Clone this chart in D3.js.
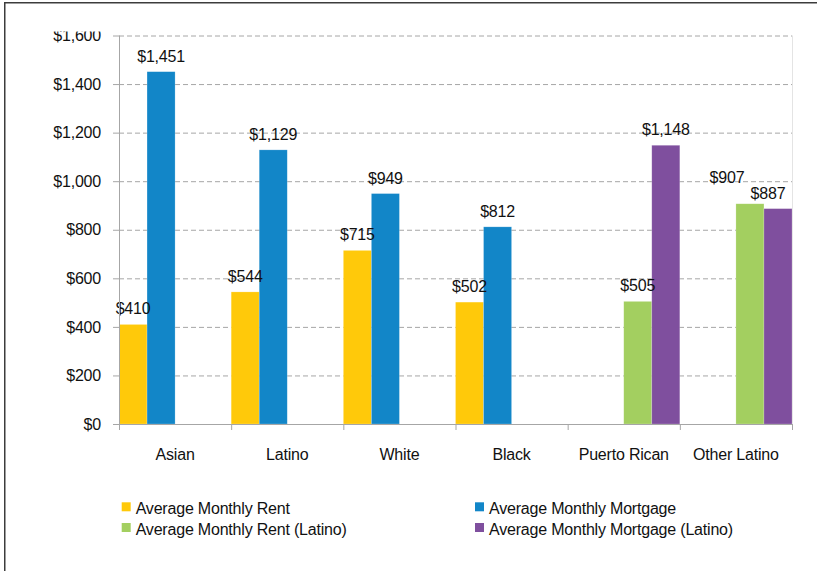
<!DOCTYPE html>
<html>
<head>
<meta charset="utf-8">
<title>Average Monthly Rent and Mortgage</title>
<script src="https://d3js.org/d3.v7.min.js"></script>
<style>
  body { margin: 0; background: #fff; }
  text { font-family: "Liberation Sans", Arial, sans-serif; font-size: 16px; fill: #111; letter-spacing: -0.2px; }
  .grid line { stroke: #a6a6a6; stroke-dasharray: 5,3; }
  .axis path, .axis line { stroke: #a6a6a6; }
</style>
</head>
<body>
<div id="chart"></div>
<script>
// data
var categories = ["Asian", "Latino", "White", "Black", "Puerto Rican", "Other Latino"];
var seriesNames = ["Average Monthly Rent", "Average Monthly Mortgage",
                   "Average Monthly Rent (Latino)", "Average Monthly Mortgage (Latino)"];
var rent           = [410, 544, 715, 502, null, null];
var mortgage       = [1451, 1129, 949, 812, null, null];
var rentLatino     = [null, null, null, null, 505, 907];
var mortgageLatino = [null, null, null, null, 1148, 887];
var yTicks = [0, 200, 400, 600, 800, 1000, 1200, 1400, 1600];

var colors = ["#ffc90a", "#1286c8", "#a3cf60", "#7f4f9e"];
var values = [rent, mortgage, rentLatino, mortgageLatino];

// label nudges where the labels would collide ("series-category")
var labelNudge = { "2-5": [-23, -11], "3-5": [-10, 0] };

var width = 817, height = 571;
var margin = {top: 35.5, right: 25, bottom: 147, left: 119};
var w = width - margin.left - margin.right;
var h = height - margin.top - margin.bottom;

var svg = d3.select("#chart").append("svg")
    .attr("width", width)
    .attr("height", height);

// outer frame (runs off the right and bottom edges)
svg.append("rect")
    .attr("x", 4.75).attr("y", 2.75)
    .attr("width", 900).attr("height", 700)
    .attr("fill", "none")
    .attr("stroke", "#3c3c3c")
    .attr("stroke-width", 1.5);

var g = svg.append("g")
    .attr("transform", "translate(" + margin.left + "," + margin.top + ")");

var x0 = d3.scaleBand().domain(categories).range([0, w]).padding(0);
var x1 = d3.scaleBand().domain(d3.range(seriesNames.length)).range([0, x0.bandwidth()]).padding(0);
var y = d3.scaleLinear().domain([0, 1600]).range([h, 0]);

// gridlines
g.append("g")
    .attr("class", "grid")
    .selectAll("line")
    .data(yTicks.filter(function(d) { return d > 0; }))
    .enter().append("line")
    .attr("x1", 0).attr("x2", w)
    .attr("y1", function(d) { return y(d) + 0.5; })
    .attr("y2", function(d) { return y(d) + 0.5; });

// right border of plot area
g.append("line")
    .attr("x1", w + 0.5).attr("x2", w + 0.5)
    .attr("y1", 0).attr("y2", h)
    .attr("stroke", "#e4e4e4");

// bars
values.forEach(function(vals, si) {
    g.append("g").selectAll("rect")
        .data(categories.map(function(c, ci) { return {c: c, v: vals[ci]}; })
                        .filter(function(d) { return d.v != null; }))
        .enter().append("rect")
        .attr("x", function(d) { return x0(d.c) + x1(si); })
        .attr("y", function(d) { return y(d.v); })
        .attr("width", x1.bandwidth())
        .attr("height", function(d) { return h - y(d.v); })
        .attr("fill", colors[si])
        .attr("stroke", "#fff")
        .attr("stroke-opacity", 0.35)
        .attr("stroke-width", 0.6);
});

// value labels
var fmt = d3.format("$,");
values.forEach(function(vals, si) {
    vals.forEach(function(v, ci) {
        if (v == null) return;
        var n = labelNudge[si + "-" + ci] || [0, 0];
        g.append("text")
            .attr("x", x0(categories[ci]) + x1(si) + x1.bandwidth() / 2 + n[0])
            .attr("y", y(v) - 10 + n[1])
            .attr("text-anchor", "middle")
            .text(fmt(v));
    });
});

// y axis, top label slightly cut like the original
g.append("clipPath").attr("id", "yclip")
  .append("rect").attr("x", -200).attr("y", 31.5 - margin.top).attr("width", 400).attr("height", 1000);

var yAxis = d3.axisLeft(y).tickValues(yTicks).tickSize(6).tickPadding(12)
    .tickFormat(d3.format("$,"));
var ya = g.append("g").attr("class", "axis").attr("clip-path", "url(#yclip)").call(yAxis);
ya.selectAll(".tick text").attr("fill", "#111").style("font-size", "16px");
ya.attr("font-size", null).attr("font-family", null);
ya.select(".domain").attr("d", "M0.5,0V" + h);

// x axis: ticks at category boundaries
var xa = g.append("g").attr("class", "axis").attr("transform", "translate(0," + h + ")");
xa.append("line").attr("x1", -6).attr("x2", w).attr("y1", 0.5).attr("y2", 0.5);
xa.selectAll(".bt")
    .data(categories.concat(["end"]))
    .enter().append("line")
    .attr("class", "bt")
    .attr("x1", function(d, i) { return i * x0.bandwidth() + 0.5; })
    .attr("x2", function(d, i) { return i * x0.bandwidth() + 0.5; })
    .attr("y1", 0).attr("y2", 6)
    .attr("stroke", function(d, i) { return i === categories.length ? "#e4e4e4" : "#a6a6a6"; });
xa.selectAll("text")
    .data(categories)
    .enter().append("text")
    .attr("x", function(d) { return x0(d) + x0.bandwidth() / 2; })
    .attr("y", 36)
    .attr("text-anchor", "middle")
    .text(function(d) { return d; });

// legend, second row cut off at the bottom like the original
svg.append("clipPath").attr("id", "legclip")
  .append("rect").attr("x", 0).attr("y", 480).attr("width", width).attr("height", 58);

var leg = svg.append("g").attr("clip-path", "url(#legclip)");
var legPos = [[121.7, 502.3], [475, 502.3], [121.7, 523], [475, 523]];
seriesNames.forEach(function(name, i) {
    var p = legPos[i];
    leg.append("rect")
        .attr("x", p[0]).attr("y", p[1])
        .attr("width", 9).attr("height", 9)
        .attr("fill", colors[i]);
    leg.append("text")
        .attr("x", p[0] + 14)
        .attr("y", p[1] + 11.8)
        .text(name);
});
</script>
</body>
</html>
